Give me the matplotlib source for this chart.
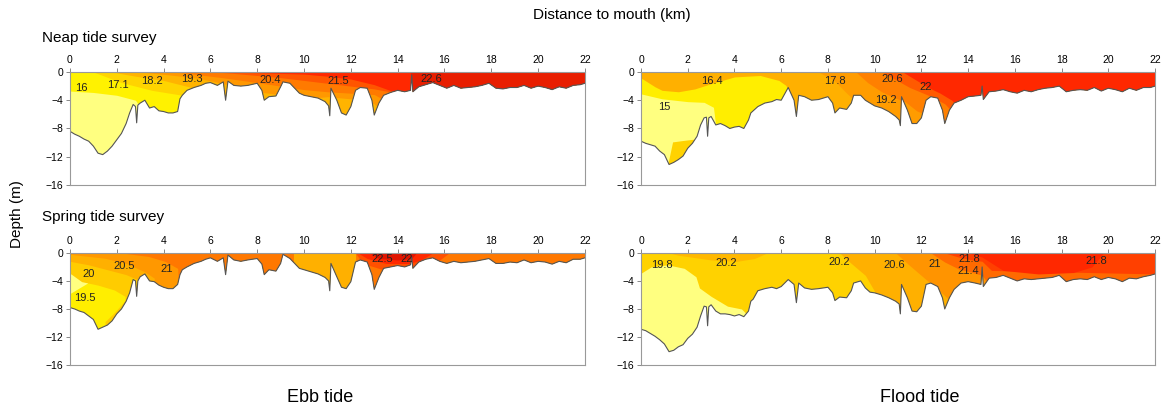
import numpy as np
import matplotlib.pyplot as plt
from matplotlib.patches import Polygon

plt.rcParams['font.family'] = ['Liberation Sans', 'DejaVu Sans']

# distance to mouth (km), stations shared by the four surveys
dist = [0, 0.2, 0.4, 0.6, 0.8, 1.0, 1.2, 1.4, 1.6, 1.8,
        2.0, 2.2, 2.4, 2.55, 2.7, 2.8, 2.85, 2.9, 3.0, 3.2,
        3.4, 3.6, 3.8, 4.0, 4.2, 4.4, 4.6, 4.7, 4.8, 5.0,
        5.3, 5.6, 5.8, 6.0, 6.3, 6.55, 6.65, 6.75, 7.0, 7.3,
        7.6, 8.0, 8.2, 8.3, 8.5, 8.8, 9.0, 9.1, 9.4, 9.6,
        9.8, 10.0, 10.3, 10.6, 10.9, 11.05, 11.1, 11.15, 11.4, 11.6,
        11.8, 12.0, 12.2, 12.4, 12.7, 12.9, 13.0, 13.2, 13.4, 13.7,
        14.0, 14.3, 14.55, 14.6, 14.65, 14.9, 15.2, 15.5, 15.8, 16.1,
        16.4, 16.7, 17.0, 17.3, 17.6, 17.9, 18.2, 18.5, 18.8, 19.1,
        19.4, 19.7, 20.0, 20.3, 20.6, 20.9, 21.2, 21.5, 21.8, 22.0]

# bottom depth (m) for each survey
depth_neap_ebb = [-8.4, -8.8, -9.1, -9.5, -9.8, -10.5, -11.5, -11.7, -11.2, -10.5,
                  -9.6, -8.7, -7.3, -5.8, -4.6, -4.9, -7.2, -4.7, -4.4, -4.0,
                  -5.1, -4.9, -5.5, -5.6, -5.8, -5.8, -5.6, -3.8, -3.3, -2.6,
                  -2.2, -1.9, -1.6, -1.5, -1.9, -1.4, -4.0, -1.3, -1.9, -2.0,
                  -1.9, -1.6, -2.6, -4.0, -3.5, -3.4, -2.1, -1.4, -1.6, -2.3,
                  -3.0, -3.3, -3.5, -3.7, -4.2, -4.8, -6.2, -2.3, -4.0, -5.8,
                  -6.1, -4.9, -2.6, -2.2, -2.3, -4.0, -6.1, -4.4, -3.3, -2.9,
                  -2.6, -2.8, -2.6, -0.4, -2.8, -2.1, -1.8, -1.5, -1.9, -2.3,
                  -1.9, -2.3, -2.2, -2.1, -1.9, -1.6, -2.3, -2.4, -2.2, -2.2,
                  -1.9, -2.3, -2.0, -2.2, -2.5, -2.1, -2.3, -1.9, -1.8, -1.6]
depth_neap_flood = [-9.8, -10.1, -10.3, -10.5, -11.2, -11.7, -13.1, -12.8, -12.4, -11.9,
                    -10.8, -10.1, -9.1, -7.5, -6.5, -6.4, -9.1, -6.5, -6.3, -7.5,
                    -7.3, -7.6, -8.0, -7.8, -7.7, -8.0, -6.8, -5.8, -5.5, -4.9,
                    -4.4, -4.2, -3.9, -4.0, -2.2, -4.0, -6.3, -3.3, -3.5, -4.0,
                    -3.9, -3.5, -4.4, -5.8, -5.1, -5.3, -4.4, -3.3, -3.3, -4.0,
                    -4.4, -4.8, -5.1, -5.6, -6.3, -6.8, -7.6, -3.5, -5.4, -7.3,
                    -7.3, -6.5, -4.0, -3.5, -3.7, -5.4, -7.3, -5.4, -4.4, -4.0,
                    -3.5, -3.4, -3.3, -2.0, -3.9, -2.8, -2.7, -2.5, -2.8, -3.0,
                    -2.6, -2.8, -2.5, -2.3, -2.2, -2.0, -2.8, -2.6, -2.5, -2.6,
                    -2.2, -2.7, -2.3, -2.5, -2.8, -2.3, -2.6, -2.2, -2.2, -2.0]
depth_spring_ebb = [-7.8, -8.0, -8.3, -8.5, -9.0, -9.5, -10.9, -10.6, -10.3, -9.7,
                    -8.7, -8.0, -6.9, -5.7, -3.8, -4.0, -6.2, -4.0, -3.4, -3.0,
                    -4.0, -4.1, -4.6, -4.9, -5.1, -5.1, -4.5, -3.1, -2.4, -2.0,
                    -1.5, -1.2, -0.9, -0.7, -1.2, -0.7, -3.1, -0.3, -1.0, -1.2,
                    -1.0, -0.8, -1.6, -3.1, -2.4, -2.6, -1.5, -0.2, -0.8, -1.5,
                    -2.2, -2.4, -2.7, -3.0, -3.5, -4.0, -5.4, -1.5, -3.4, -4.9,
                    -5.1, -4.1, -1.3, -1.0, -1.3, -3.1, -5.2, -3.5, -2.2, -2.0,
                    -1.8, -2.0, -1.7, -0.6, -2.2, -1.3, -0.9, -0.7, -1.2, -1.5,
                    -1.2, -1.4, -1.3, -1.2, -1.0, -0.8, -1.5, -1.5, -1.3, -1.4,
                    -1.0, -1.4, -1.2, -1.3, -1.6, -1.2, -1.4, -0.9, -0.9, -0.7]
depth_spring_flood = [-10.9, -11.1, -11.5, -11.9, -12.4, -13.0, -14.1, -13.9, -13.4, -13.1,
                      -12.2, -11.6, -10.6, -9.0, -7.6, -7.7, -10.4, -7.7, -7.4, -8.3,
                      -8.7, -8.7, -8.8, -9.0, -8.8, -9.1, -8.3, -6.9, -6.6, -5.4,
                      -5.1, -4.9, -5.1, -4.8, -3.8, -4.5, -7.1, -4.3, -5.0, -5.2,
                      -5.1, -4.9, -5.7, -6.8, -6.3, -6.4, -5.4, -4.3, -4.0, -5.0,
                      -5.6, -5.7, -6.0, -6.4, -6.9, -7.3, -8.7, -4.5, -6.4, -8.3,
                      -8.4, -7.6, -4.5, -4.3, -4.8, -6.4, -8.0, -6.4, -5.2, -4.3,
                      -4.1, -4.3, -4.5, -2.0, -4.8, -3.6, -3.5, -3.2, -3.6, -4.0,
                      -3.7, -3.8, -3.7, -3.6, -3.5, -3.2, -4.1, -3.8, -3.7, -3.8,
                      -3.4, -3.8, -3.5, -3.7, -4.1, -3.6, -3.7, -3.4, -3.2, -3.0]

# isotherm depths (x km, depth m); warmer water lies above each line
iso_neap_ebb = [
    ([0, 1, 2, 2.8, 3.2, 5, 22], [-2.7, -2.9, -3.3, -4.0, -6, -8, -16]),
    ([0, 1.0, 2.2, 3.5, 5.0, 6.0, 22], [0, 0, -1.5, -2.6, -3.4, -5, -16]),
    ([0, 1.8, 2.8, 4.0, 5.2, 6.5, 22], [0, 0, -0.6, -1.2, -2.2, -4, -16]),
    ([0, 3.0, 4.2, 5.5, 6.5, 8, 9, 10, 11, 12, 13, 14, 22],
     [0, 0, -0.4, -0.9, -1.6, -2.8, -3.2, -3.8, -3.5, -3.8, -4.5, -8, -16]),
    ([0, 4.5, 5.5, 6.5, 8, 9, 10, 11, 12, 13, 14, 15, 22],
     [0, 0, -0.4, -0.8, -1.5, -2.0, -2.5, -2.8, -3.0, -3.2, -5, -16, -16]),
    ([0, 6.2, 7, 8, 9, 10, 11, 12, 13, 14, 15, 22],
     [0, 0, -0.2, -0.5, -0.8, -1.2, -1.6, -2.0, -2.4, -3, -16, -16]),
    ([0, 6.6, 8, 10, 11, 12, 13, 14, 14.5, 22],
     [0, 0, -0.1, -0.3, -0.6, -1.0, -1.8, -3, -16, -16]),
    ([0, 14.55, 14.6, 22], [0, 0, -16, -16]),
]
iso_neap_flood = [
    ([0, 0.9, 2, 2.7, 3.1, 3.25, 5, 22], [-3.1, -3.8, -4.2, -4.3, -5, -9, -12, -16]),
    ([0, 0.6, 0.9, 1.6, 2.3, 3.0, 4.0, 5.1, 5.9, 6.2, 6.45, 6.6, 22],
     [-0.85, -2.1, -2.6, -2.8, -2.4, -1.65, -0.7, -0.5, -1.2, -1.9, -3.5, -10, -16]),
    ([0, 7.6, 8.3, 8.8, 9.2, 9.6, 10.5, 22], [0, 0, -1.3, -3.0, -4.2, -6, -9, -16]),
    ([0, 9.2, 9.7, 10.3, 10.8, 11.3, 11.8, 12.5, 13, 22],
     [0, 0, -1.5, -2.8, -3.6, -4.2, -5.5, -6.5, -8, -16]),
    ([0, 10.3, 10.8, 11.5, 12.3, 13, 14, 22], [0, 0, -0.9, -2.2, -3.3, -4.5, -8, -16]),
    ([0, 11.2, 11.8, 12.3, 12.8, 13.3, 14, 22], [0, 0, -1.2, -2.2, -3.0, -4.0, -6, -16]),
]
iso_spring_ebb = [
    ([0, 0.5, 1.2, 1.9, 2.35, 2.5, 22], [-2.9, -4.1, -4.6, -5.3, -6.2, -16, -16]),
    ([0, 0.8, 1.6, 2.4, 3.1, 3.3, 22], [-1.2, -1.7, -2.4, -3.1, -4.1, -7, -16]),
    ([0, 1.5, 2.4, 3.2, 3.6, 3.8, 9.45, 9.55, 12.2, 12.3, 22],
     [-0.2, -0.76, -1.5, -2.7, -3.6, -16, -16, 0, 0, -16, -16]),
    ([0, 2.2, 3.35, 4.06, 4.6, 4.8, 9.45, 9.55, 12.2, 12.3, 22],
     [0, 0, -0.5, -1.2, -2.2, -16, -16, 0, 0, -16, -16]),
    ([0, 12.2, 12.5, 13.5, 14.5, 15.2, 15.8, 16.2, 22], [0, 0, -1.5, -2.5, -2.5, -1.5, -1.0, 0, 0]),
    ([0, 12.3, 12.7, 13.5, 14.5, 15.0, 15.5, 22], [0, 0, -0.8, -1.5, -1.5, -1.0, 0, 0]),
    ([0, 12.8, 13.2, 14.0, 14.6, 14.8, 22], [0, 0, -0.8, -1.0, -0.8, 0, 0]),
]
iso_spring_flood = [
    ([0, 0.43, 1.14, 1.85, 2.35, 2.5, 3.0, 3.7, 4.3, 4.6, 5, 22],
     [-2.9, -2.0, -1.7, -2.2, -3.4, -5.0, -6.2, -7.6, -8.0, -9, -16, -16]),
    ([0, 1.2, 1.6, 3.0, 4.1, 4.85, 5.4, 22], [0, 0, -0.33, -1.0, -1.2, -0.8, 0, 0]),
    ([0, 8.5, 9.0, 9.6, 10.0, 10.3, 22], [0, 0, -1.5, -3.2, -5.5, -16, -16]),
    ([0, 10.9, 11.5, 12.2, 12.8, 13.3, 14, 22], [0, 0, -1.8, -3.8, -5.5, -7, -16, -16]),
    ([0, 12.4, 13, 13.6, 14.2, 14.6, 15, 22], [0, 0, -1.3, -2.3, -2.8, -3.2, -5, -16]),
    ([0, 13.0, 13.6, 14.0, 14.6, 15, 22], [0, 0, -0.6, -0.9, -1.2, -2.5, -3.0]),
    ([0, 14.0, 14.6, 15.5, 17, 18.5, 19.3, 19.8, 22], [0, 0, -0.6, -2.5, -3.0, -2.8, -2.0, 0, 0]),
]

# closed water masses that do not follow the layering (x, lower, upper)
patch_neap_flood = [([1.15, 1.35, 1.8, 2.3, 2.5], [-16] * 5, [-13, -9.9, -9.7, -9.5, -9.5])]
patch_spring_ebb = [([1.5, 1.9, 2.3, 2.45], [-16] * 4, [-9.8, -8.5, -7.0, -6.5]),
                    ([0, 0.3, 0.6, 0.75], [-5.8, -5.2, -4.6, -4.3], [-2.9, -3.3, -3.8, -4.2])]

# isotherm labels (x km, depth m, text)
lab_neap_ebb = [(0.49, -2.25, '16'), (2.03, -1.78, '17.1'), (3.52, -1.31, '18.2'),
                (5.23, -0.94, '19.3'), (8.57, -1.17, '20.4'), (11.45, -1.31, '21.5'),
                (15.44, -0.94, '22.6')]
lab_neap_flood = [(1.0, -4.9, '15'), (3.05, -1.26, '16.4'), (8.3, -1.3, '17.8'),
                  (10.5, -3.9, '19.2'), (10.75, -1.0, '20.6'), (12.2, -2.15, '22')]
lab_spring_ebb = [(0.8, -3.04, '20'), (2.32, -1.87, '20.5'), (4.12, -2.34, '21'),
                  (0.64, -6.41, '19.5'), (13.36, -0.89, '22.5'), (14.38, -0.89, '22')]
lab_spring_flood = [(0.88, -1.73, '19.8'), (3.65, -1.5, '20.2'), (8.5, -1.26, '20.2'),
                    (10.83, -1.73, '20.6'), (12.58, -1.64, '21'), (14.04, -0.89, '21.8'),
                    (14.0, -2.57, '21.4'), (19.5, -1.17, '21.8')]

PALE = '#FFFF80'
panels = [
    # depth, base colour, isotherms, iso colours, patches, patch colours, labels
    (depth_neap_ebb, PALE, iso_neap_ebb,
     ['#FFF200', '#FFD400', '#FFB400', '#FF9800', '#FF7A00', '#FF5500', '#FF2800', '#E81E00'],
     [], [], lab_neap_ebb),
    (depth_neap_flood, PALE, iso_neap_flood,
     ['#FFEE00', '#FFB000', '#FF9C00', '#FF8000', '#FF5A00', '#FF2800'],
     patch_neap_flood, ['#FFD200'], lab_neap_flood),
    (depth_spring_ebb, '#FFEE00', iso_spring_ebb,
     ['#FFCC00', '#FFB000', '#FF9800', '#FF7800', '#FF5000', '#FF2800', '#E01400'],
     patch_spring_ebb, ['#FFCC00', PALE], lab_spring_ebb),
    (depth_spring_flood, PALE, iso_spring_flood,
     ['#FFD200', '#FFB800', '#FFB000', '#FF9400', '#FF6A00', '#FF4000', '#FF2800'],
     [], [], lab_spring_flood),
]

fig = plt.figure(figsize=(11.64, 4.12), dpi=100)
boxes = [[0.0601, 0.551, 0.4424, 0.2743], [0.5507, 0.551, 0.4416, 0.2743],
         [0.0601, 0.1141, 0.4424, 0.272], [0.5507, 0.1141, 0.4416, 0.272]]

for box, (depth, base, isos, cols, patches, pcols, labels) in zip(boxes, panels):
    ax = fig.add_axes(box)
    x = np.array(dist)
    d = np.array(depth)
    verts = np.column_stack([np.r_[x, x[::-1]], np.r_[d, np.zeros(len(x))]])
    water = Polygon(verts, closed=True, facecolor=base, edgecolor='none')
    ax.add_patch(water)

    # gold/pale pockets go under the upper layers
    for (px, lo, hi), c in zip(patches, pcols):
        f = ax.fill_between(px, lo, hi, color=c, lw=0)
        f.set_clip_path(water)
    for (ix, idp), c in zip(isos, cols):
        f = ax.fill_between(ix, idp, 0, color=c, lw=0)
        f.set_clip_path(water)

    ax.plot(x, d, color='#555555', lw=0.8)

    for lx, ly, t in labels:
        ax.text(lx, ly, t, fontsize=8, color='#222222', ha='center', va='center')

    ax.set_xlim(0, 22)
    ax.set_ylim(-16, 0)
    ax.set_xticks(range(0, 23, 2))
    ax.set_yticks([0, -4, -8, -12, -16])
    ax.xaxis.tick_top()
    ax.tick_params(labelsize=7.5, length=3, width=0.7, color='#888888', pad=2)
    for s in ax.spines.values():
        s.set_color('#999999')
        s.set_linewidth(0.8)

fig.text(0.526, 0.963, 'Distance to mouth (km)', fontsize=11, ha='center', va='center')
fig.text(0.036, 0.908, 'Neap tide survey', fontsize=11, ha='left', va='center')
fig.text(0.036, 0.473, 'Spring tide survey', fontsize=11, ha='left', va='center')
fig.text(0.015, 0.48, 'Depth (m)', fontsize=11, rotation=90, ha='center', va='center')
fig.text(0.275, 0.035, 'Ebb tide', fontsize=13, ha='center', va='center')
fig.text(0.79, 0.035, 'Flood tide', fontsize=13, ha='center', va='center')

fig.savefig('out.png', dpi=100)
